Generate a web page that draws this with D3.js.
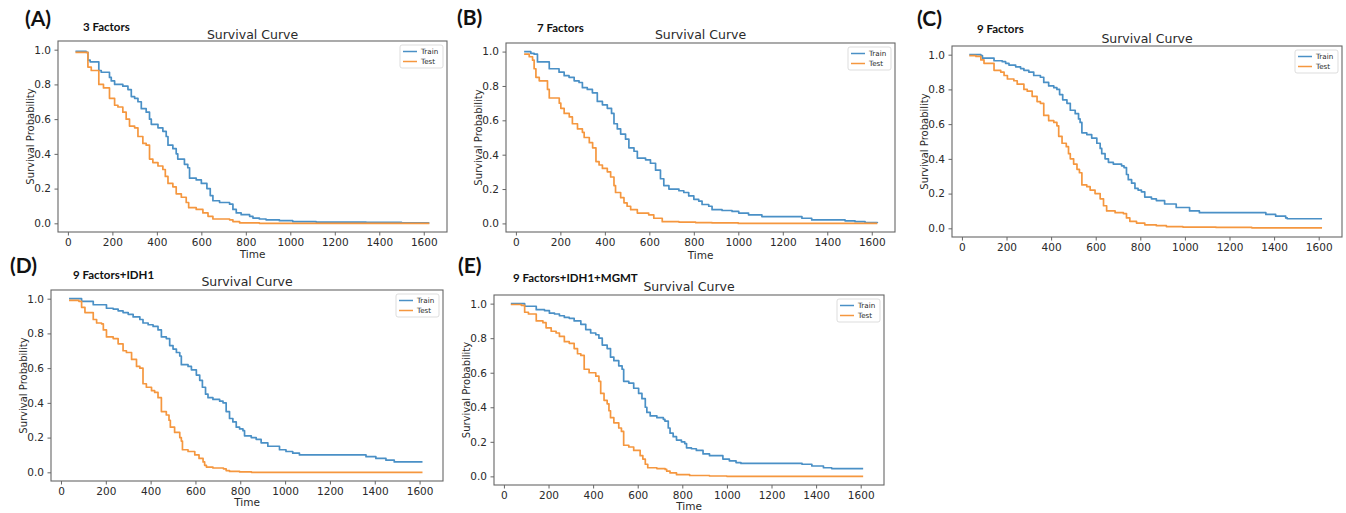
<!DOCTYPE html>
<html><head><meta charset="utf-8">
<script src="https://cdn.jsdelivr.net/npm/d3@7"></script>
<style>body{margin:0;background:#fff} svg{display:block}</style>
</head><body>
<svg id="c" width="1346" height="513"></svg>
<script>
// ---------- data ----------
const xTicks = [0, 200, 400, 600, 800, 1000, 1200, 1400, 1600];
const yTicks = [0.0, 0.2, 0.4, 0.6, 0.8, 1.0];
const panelLabels = ["(A)", "(B)", "(C)", "(D)", "(E)"];
const factorLabels = ["3 Factors", "7 Factors", "9 Factors", "9 Factors+IDH1", "9 Factors+IDH1+MGMT"];
const seriesNames = ["Train", "Test"];
const chartTitle = "Survival Curve";
const xLabel = "Time";
const yLabel = "Survival Probability";

const trainA = [[34,0.99],[82,0.985],[90,0.94],[100,0.93],[139,0.88],[150,0.87],[187,0.84],[195,0.82],[210,0.80],[247,0.79],[270,0.77],[285,0.73],[300,0.72],[315,0.70],[330,0.66],[352,0.64],[367,0.60],[375,0.57],[405,0.55],[427,0.53],[442,0.50],[450,0.45],[472,0.43],[487,0.40],[494,0.37],[524,0.34],[539,0.32],[547,0.26],[577,0.25],[600,0.23],[625,0.20],[640,0.16],[652,0.13],[682,0.12],[727,0.11],[742,0.08],[757,0.06],[779,0.05],[817,0.04],[832,0.03],[861,0.025],[891,0.02],[951,0.015],[1011,0.01],[1116,0.007],[1341,0.005],[1500,0.003],[1625,0.003]];
const testA = [[34,0.985],[90,0.90],[105,0.88],[139,0.80],[160,0.78],[187,0.72],[210,0.68],[225,0.67],[247,0.64],[262,0.60],[277,0.56],[300,0.55],[315,0.50],[337,0.46],[352,0.45],[367,0.37],[382,0.35],[405,0.33],[427,0.31],[438,0.27],[450,0.23],[472,0.21],[487,0.17],[510,0.15],[532,0.12],[543,0.09],[577,0.08],[607,0.06],[630,0.04],[652,0.025],[727,0.02],[742,0.01],[772,0.003],[861,0.0],[1625,0.0]];

const trainB = [[37,1.0],[67,0.99],[82,0.985],[97,0.94],[150,0.90],[194,0.88],[217,0.86],[239,0.85],[262,0.83],[284,0.82],[299,0.79],[321,0.78],[344,0.76],[366,0.71],[389,0.69],[411,0.67],[430,0.64],[441,0.58],[456,0.55],[471,0.52],[493,0.49],[508,0.44],[531,0.42],[546,0.38],[583,0.37],[605,0.35],[628,0.31],[650,0.26],[665,0.22],[688,0.20],[733,0.19],[755,0.18],[777,0.16],[800,0.14],[822,0.13],[837,0.11],[867,0.10],[882,0.08],[927,0.075],[972,0.07],[1002,0.06],[1046,0.05],[1106,0.04],[1286,0.03],[1330,0.02],[1480,0.015],[1525,0.01],[1570,0.005],[1625,0.003]];
const testB = [[37,0.985],[60,0.97],[75,0.95],[82,0.90],[90,0.85],[105,0.83],[142,0.78],[150,0.73],[195,0.70],[202,0.67],[217,0.64],[240,0.62],[254,0.58],[277,0.55],[299,0.53],[307,0.50],[330,0.47],[345,0.44],[360,0.36],[374,0.34],[389,0.32],[411,0.30],[426,0.27],[441,0.22],[448,0.18],[471,0.15],[486,0.12],[500,0.10],[516,0.08],[546,0.06],[597,0.05],[620,0.03],[658,0.01],[733,0.008],[808,0.005],[882,0.003],[1000,0.0],[1625,0.0]];

const trainC = [[33,1.0],[85,0.995],[92,0.98],[144,0.965],[181,0.96],[196,0.95],[211,0.94],[241,0.93],[263,0.92],[278,0.91],[300,0.90],[322,0.88],[352,0.87],[367,0.84],[389,0.82],[412,0.81],[426,0.80],[438,0.77],[452,0.74],[471,0.72],[486,0.68],[508,0.66],[523,0.63],[530,0.61],[538,0.55],[560,0.54],[582,0.52],[605,0.49],[620,0.46],[627,0.43],[642,0.40],[657,0.38],[679,0.37],[716,0.36],[727,0.35],[738,0.31],[746,0.28],[761,0.26],[776,0.23],[790,0.22],[805,0.21],[820,0.18],[850,0.17],[872,0.16],[909,0.14],[961,0.12],[1021,0.10],[1065,0.09],[1363,0.08],[1407,0.07],[1452,0.06],[1459,0.055],[1615,0.055]];
const testC = [[33,0.995],[63,0.99],[85,0.97],[99,0.95],[144,0.91],[174,0.90],[189,0.88],[204,0.86],[233,0.85],[248,0.83],[278,0.80],[293,0.79],[315,0.76],[337,0.73],[352,0.72],[367,0.65],[389,0.62],[412,0.61],[426,0.59],[434,0.53],[449,0.49],[468,0.47],[478,0.43],[486,0.40],[501,0.37],[516,0.34],[527,0.32],[538,0.25],[560,0.24],[575,0.22],[597,0.20],[620,0.17],[635,0.13],[649,0.10],[687,0.09],[724,0.085],[738,0.06],[753,0.04],[783,0.03],[820,0.02],[872,0.015],[917,0.01],[991,0.007],[1140,0.005],[1300,0.003],[1615,0.003]];

const trainD = [[36,1.0],[92,0.985],[144,0.965],[203,0.945],[233,0.94],[255,0.93],[277,0.92],[300,0.91],[322,0.895],[352,0.88],[366,0.86],[389,0.85],[411,0.84],[433,0.82],[448,0.78],[470,0.77],[485,0.73],[500,0.71],[515,0.69],[530,0.67],[537,0.62],[567,0.61],[582,0.59],[604,0.56],[619,0.53],[631,0.49],[645,0.45],[656,0.43],[678,0.42],[708,0.41],[723,0.40],[737,0.35],[752,0.31],[767,0.29],[782,0.26],[797,0.25],[812,0.24],[819,0.21],[849,0.20],[871,0.19],[893,0.17],[923,0.15],[975,0.13],[1004,0.12],[1034,0.11],[1064,0.10],[1361,0.09],[1405,0.08],[1450,0.07],[1487,0.06],[1613,0.06]];
const testD = [[36,0.99],[80,0.985],[92,0.95],[107,0.92],[144,0.88],[159,0.86],[181,0.855],[189,0.82],[203,0.78],[233,0.77],[255,0.74],[277,0.70],[292,0.69],[315,0.65],[337,0.61],[352,0.60],[366,0.51],[381,0.49],[404,0.47],[418,0.46],[433,0.43],[448,0.35],[470,0.33],[482,0.30],[488,0.26],[507,0.23],[530,0.20],[537,0.18],[542,0.13],[567,0.12],[597,0.10],[616,0.08],[634,0.06],[641,0.04],[649,0.03],[678,0.025],[725,0.02],[737,0.01],[752,0.005],[797,0.002],[850,0.0],[1613,0.0]];

const trainE = [[31,1.0],[93,0.985],[145,0.965],[182,0.96],[204,0.945],[227,0.94],[249,0.93],[271,0.92],[293,0.915],[315,0.90],[345,0.88],[367,0.85],[389,0.83],[412,0.82],[426,0.80],[441,0.76],[463,0.74],[478,0.69],[493,0.67],[515,0.64],[530,0.62],[537,0.55],[560,0.54],[582,0.51],[604,0.48],[619,0.45],[634,0.40],[641,0.37],[656,0.35],[686,0.34],[715,0.33],[722,0.32],[737,0.28],[745,0.25],[759,0.23],[774,0.21],[796,0.20],[811,0.19],[819,0.165],[841,0.16],[863,0.15],[893,0.13],[922,0.12],[982,0.10],[1011,0.09],[1041,0.08],[1063,0.075],[1337,0.07],[1381,0.06],[1433,0.05],[1470,0.045],[1611,0.045]];
const testE = [[31,0.995],[78,0.99],[93,0.95],[110,0.94],[145,0.90],[175,0.89],[189,0.86],[212,0.84],[234,0.83],[249,0.81],[271,0.78],[293,0.77],[315,0.74],[330,0.71],[345,0.70],[360,0.62],[382,0.60],[412,0.58],[426,0.55],[434,0.48],[449,0.44],[463,0.42],[471,0.38],[478,0.34],[493,0.31],[515,0.28],[527,0.26],[537,0.18],[560,0.17],[582,0.15],[611,0.12],[623,0.10],[634,0.07],[645,0.05],[686,0.045],[723,0.04],[730,0.03],[745,0.02],[774,0.01],[833,0.005],[922,0.002],[1000,0.0],[1611,0.0]];

const trainSeries = [trainA, trainB, trainC, trainD, trainE];
const testSeries = [testA, testB, testC, testD, testE];

// ---------- layout (pixel frames) ----------
const layout = [
  {l:58,  r:447,  t:41,  b:232, labX:25,  labY:26,  facX:83,  facY:31,  titleY:39,  timeY:258},
  {l:506, r:895,  t:43,  b:232, labX:457, labY:25,  facX:537, facY:32,  titleY:39,  timeY:259},
  {l:952, r:1342, t:46,  b:237, labX:917, labY:26,  facX:977, facY:33,  titleY:43,  timeY:null},
  {l:51,  r:443,  t:290, b:481, labX:10,  labY:273, facX:73,  facY:279, titleY:286, timeY:506},
  {l:494, r:884,  t:295, b:485, labX:458, labY:273, facX:513, facY:282, titleY:291, timeY:510}
];

const colors = ["#4a90c6", "#f5973f"];
const frameColor = "#666666";
const textColor = "#2a2a2a";
const mplFont = "'DejaVu Sans', sans-serif";
const boldFont = "Lato, 'Open Sans', 'Noto Sans', sans-serif";

const svg = d3.select("#c");

layout.forEach((L, i) => {
  const x = d3.scaleLinear().domain([-44.5, 1704.5]).range([L.l, L.r]);
  const y = d3.scaleLinear().domain([-0.05, 1.05]).range([L.b, L.t]);
  const g = svg.append("g");

  g.append("text").attr("x", L.labX).attr("y", L.labY)
    .attr("font-family", boldFont).attr("font-weight", 700).attr("font-size", 21)
    .attr("fill", "#111").text(panelLabels[i]);
  g.append("text").attr("x", L.facX).attr("y", L.facY)
    .attr("font-family", boldFont).attr("font-weight", 700).attr("font-size", 11.5)
    .attr("fill", "#111").text(factorLabels[i]);

  g.append("text").attr("x", (L.l + L.r) / 2).attr("y", L.titleY)
    .attr("text-anchor", "middle").attr("font-family", mplFont).attr("font-size", 12.5)
    .attr("fill", textColor).text(chartTitle);

  const line = d3.line().x(d => x(d[0])).y(d => y(d[1])).curve(d3.curveStepAfter);
  [trainSeries[i], testSeries[i]].forEach((s, k) => {
    g.append("path").datum(s).attr("d", line)
      .attr("fill", "none").attr("stroke", colors[k]).attr("stroke-width", 1.7)
      .attr("stroke-linejoin", "round");
  });

  const xa = g.append("g").attr("transform", `translate(0,${L.b})`)
    .call(d3.axisBottom(x).tickValues(xTicks).tickSize(3.5).tickPadding(3).tickSizeOuter(0).tickFormat(d3.format("d")));
  const ya = g.append("g").attr("transform", `translate(${L.l},0)`)
    .call(d3.axisLeft(y).tickValues(yTicks).tickSize(3.5).tickPadding(3.5).tickSizeOuter(0).tickFormat(d3.format(".1f")));
  [xa, ya].forEach(a => {
    a.select(".domain").remove();
    a.selectAll("line").attr("stroke", frameColor);
    a.selectAll("text").attr("font-family", mplFont).attr("font-size", 10.5).attr("fill", textColor);
  });

  g.append("rect").attr("x", L.l).attr("y", L.t).attr("width", L.r - L.l).attr("height", L.b - L.t)
    .attr("fill", "none").attr("stroke", frameColor).attr("stroke-width", 1.1);

  if (L.timeY !== null) {
    g.append("text").attr("x", (L.l + L.r) / 2).attr("y", L.timeY)
      .attr("text-anchor", "middle").attr("font-family", mplFont).attr("font-size", 10.5)
      .attr("fill", textColor).text(xLabel);
  }
  g.append("text").attr("transform", `translate(${L.l - 24.5},${(L.t + L.b) / 2}) rotate(-90)`)
    .attr("text-anchor", "middle").attr("font-family", mplFont).attr("font-size", 10)
    .attr("fill", textColor).text(yLabel);

  const bw = 43, bh = 23;
  const bx = L.r - 4 - bw, by = L.t + 4;
  const lg = g.append("g");
  lg.append("rect").attr("x", bx).attr("y", by).attr("width", bw).attr("height", bh)
    .attr("rx", 2).attr("fill", "#fff").attr("fill-opacity", 0.85)
    .attr("stroke", "#d4d4d4").attr("stroke-width", 0.8);
  seriesNames.forEach((n, k) => {
    const ly = by + 6.5 + k * 10;
    lg.append("line").attr("x1", bx + 3).attr("x2", bx + 17).attr("y1", ly).attr("y2", ly)
      .attr("stroke", colors[k]).attr("stroke-width", 1.5);
    lg.append("text").attr("x", bx + 21).attr("y", ly + 2.5)
      .attr("font-family", mplFont).attr("font-size", 7.2).attr("fill", textColor).text(n);
  });
});
</script>
</body></html>
